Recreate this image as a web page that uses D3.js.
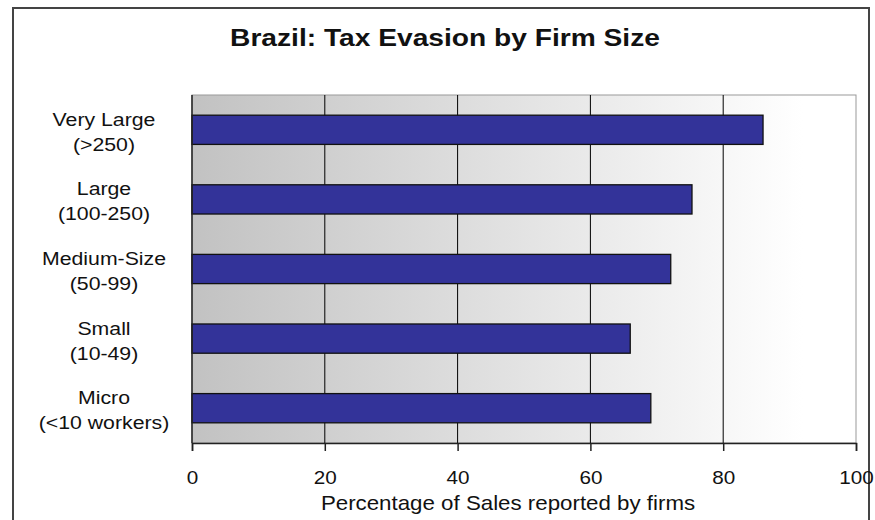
<!DOCTYPE html>
<html>
<head>
<meta charset="utf-8">
<script src="https://cdn.jsdelivr.net/npm/d3@7"></script>
<style>
  html, body { margin: 0; padding: 0; background: #fff; }
  svg { display: block; font-family: "Liberation Sans", Arial, sans-serif; }
</style>
</head>
<body>
<svg id="chart" width="875" height="520"></svg>
<script>
// Firm-size groups, two-line labels
const categories = ["Very Large", "Large", "Medium-Size", "Small", "Micro"];
const subLabels = ["(>250)", "(100-250)", "(50-99)", "(10-49)", "(<10 workers)"];
// Percentage of sales reported by firms
const reported = [86.0, 75.3, 72.1, 66.0, 69.1];
const xTicks = [0, 20, 40, 60, 80, 100];

const svg = d3.select("#chart");
const plot = { left: 192, right: 856, top: 95, bottom: 443 };
const stretch = "scale(1.15,1)"; // wide lettering used throughout

// outer frame
svg.append("rect")
  .attr("x", 13).attr("y", 8)
  .attr("width", 856).attr("height", 530)
  .attr("fill", "#fff")
  .attr("stroke", "#444").attr("stroke-width", 2);

const x = d3.scaleLinear().domain([0, 100]).range([plot.left, plot.right]);
const y = d3.scaleBand().domain(categories).range([plot.top, plot.bottom]).paddingInner(0.58).paddingOuter(0.29);

// background gradient, grey to white
const defs = svg.append("defs");
const grad = defs.append("linearGradient").attr("id", "bg").attr("x1", "0").attr("x2", "1").attr("y1", "0").attr("y2", "0");
grad.append("stop").attr("offset", "0").attr("stop-color", "#c2c2c2");
grad.append("stop").attr("offset", "0.92").attr("stop-color", "#ffffff");

svg.append("rect")
  .attr("x", plot.left).attr("y", plot.top)
  .attr("width", plot.right - plot.left).attr("height", plot.bottom - plot.top)
  .attr("fill", "url(#bg)")
  .attr("stroke", "#999").attr("stroke-width", 1);

// vertical gridlines
svg.append("g").selectAll("line")
  .data(xTicks.filter(d => d > 0 && d < 100))
  .join("line")
  .attr("x1", d => x(d)).attr("x2", d => x(d))
  .attr("y1", plot.top).attr("y2", plot.bottom)
  .attr("stroke", "#000").attr("stroke-width", 1);

// bars
svg.append("g").selectAll("rect")
  .data(categories)
  .join("rect")
  .attr("x", x(0))
  .attr("y", d => y(d))
  .attr("width", (d, i) => x(reported[i]) - x(0))
  .attr("height", y.bandwidth())
  .attr("fill", "#333399")
  .attr("stroke", "#111").attr("stroke-width", 1.3);

// x axis
const xAxis = svg.append("g")
  .attr("transform", `translate(0,${plot.bottom})`)
  .call(d3.axisBottom(x).tickValues(xTicks).tickSize(8).tickPadding(20).tickFormat(d3.format("d")));
xAxis.select(".domain").attr("stroke", "#222").attr("stroke-width", 1.5);
xAxis.selectAll(".tick line").attr("stroke", "#222").attr("stroke-width", 1.5);
xAxis.selectAll("text")
  .attr("font-size", 18).attr("fill", "#111")
  .attr("font-family", "'Liberation Sans', Arial, sans-serif")
  .attr("transform", stretch);

// left axis line
svg.append("line")
  .attr("x1", plot.left).attr("x2", plot.left)
  .attr("y1", plot.top).attr("y2", plot.bottom)
  .attr("stroke", "#222").attr("stroke-width", 1.5);

// category labels
const labelX = 104;
const labels = svg.append("g").selectAll("g")
  .data(categories)
  .join("g")
  .attr("transform", d => `translate(${labelX},${y(d) + y.bandwidth() / 2})`);
labels.append("text")
  .attr("y", -4)
  .attr("transform", stretch)
  .attr("text-anchor", "middle")
  .attr("font-size", 18.5)
  .attr("fill", "#111")
  .text(d => d);
labels.append("text")
  .attr("y", 21)
  .attr("transform", stretch)
  .attr("text-anchor", "middle")
  .attr("font-size", 18.5)
  .attr("fill", "#111")
  .text((d, i) => subLabels[i]);

// axis title
svg.append("g")
  .attr("transform", `translate(${(plot.left + plot.right) / 2 - 16},510)`)
  .append("text")
  .attr("transform", stretch)
  .attr("text-anchor", "middle")
  .attr("font-size", 19.4)
  .attr("fill", "#111")
  .text("Percentage of Sales reported by firms");

// chart title
svg.append("g")
  .attr("transform", "translate(445,46)")
  .append("text")
  .attr("transform", stretch)
  .attr("text-anchor", "middle")
  .attr("font-size", 24.5)
  .attr("font-weight", "bold")
  .attr("fill", "#111")
  .text("Brazil: Tax Evasion by Firm Size");
</script>
</body>
</html>
